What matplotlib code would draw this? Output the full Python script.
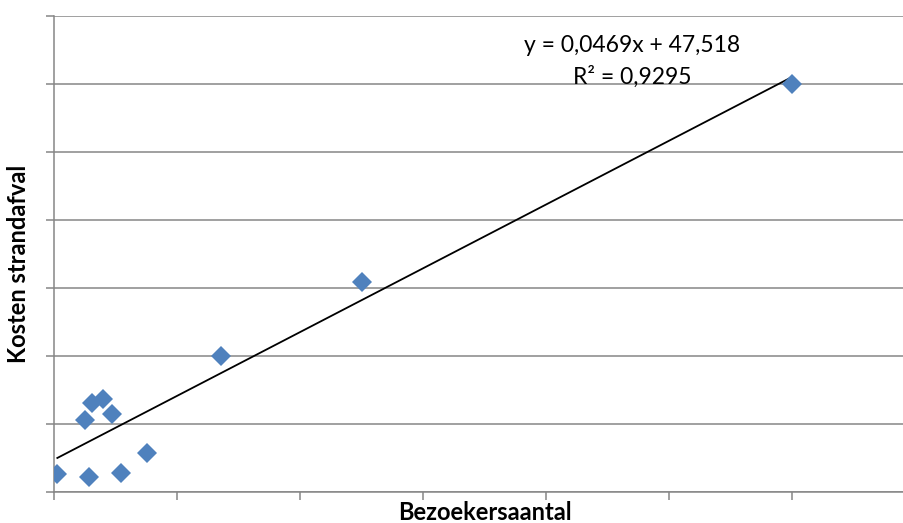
import matplotlib
matplotlib.use('Agg')
from matplotlib import pyplot as plt
import numpy as np

# Bezoekersaantal vs kosten strandafval
bezoekers = [54, 569, 1089, 1507, 509, 623, 802, 943, 2711, 5008, 12000]
kosten = [26.5, 22.5, 28.4, 57.8, 105.9, 131.3, 136.3, 114.7, 200, 309, 600]

# trendline as given in the chart
slope = 0.0469
intercept = 47.518
eq_text = 'y = 0,0469x + 47,518'
r2_text = 'R² = 0,9295'

plt.rcParams['font.family'] = ['Lato', 'DejaVu Sans']

W, H = 904, 523
fig = plt.figure(figsize=(W/100, H/100), dpi=100)
ax = fig.add_axes([54/W, (H-492)/H, (W-54)/W, (492-16)/H])

grey = '#868686'
ax.set_xticks(np.arange(0, 14001, 2000))
ax.set_yticks(np.arange(0, 701, 100))
ax.set_xlim(0, (W-54)/0.0615)
ax.set_ylim(0, 700)
ax.set_xticklabels([])
ax.set_yticklabels([])
ax.grid(axis='y', color=grey, linewidth=1.1)
ax.set_axisbelow(True)
for s in ['top', 'right']:
    ax.spines[s].set_visible(False)
for s in ['left', 'bottom']:
    ax.spines[s].set_color(grey)
    ax.spines[s].set_linewidth(1.1)
ax.tick_params(direction='out', length=6, width=1.1, color=grey)

xs = np.array([min(bezoekers), max(bezoekers)])
ax.plot(xs, slope*xs + intercept, color='black', linewidth=1.3, zorder=2)
ax.plot(bezoekers, kosten, 'D', color='#4F81BD', markersize=10, markeredgewidth=0, zorder=3)

fig.text(632/W, 1 - 45/H, eq_text, ha='center', va='center', fontsize=16.5)
fig.text(632/W, 1 - 77/H, r2_text, ha='center', va='center', fontsize=16.5)

fig.text(485/W, 1 - 512/H, 'Bezoekersaantal', ha='center', va='center', fontsize=17, fontweight='bold')
fig.text(19/W, 1 - 264/H, 'Kosten strandafval', ha='center', va='center', rotation=90, fontsize=17, fontweight='bold')

plt.savefig('out.png', dpi=100)
